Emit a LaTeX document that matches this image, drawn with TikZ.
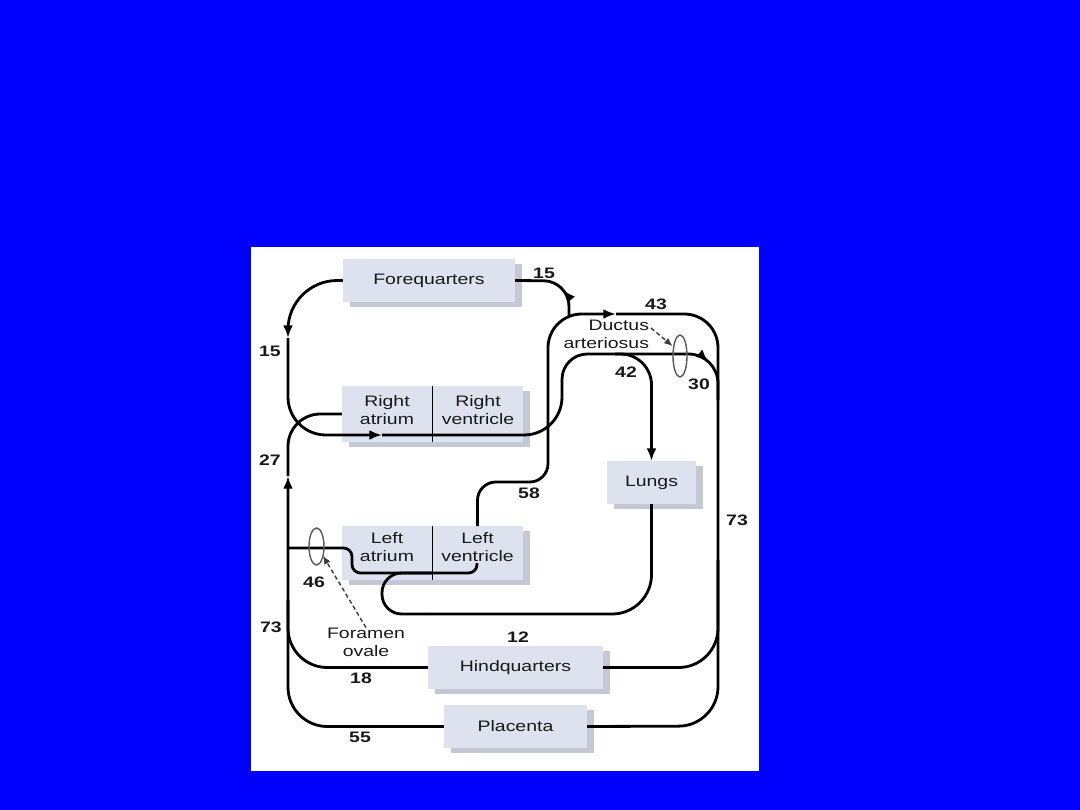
\documentclass[tikz,border=0pt]{standalone}
\usepackage{fontspec}
\setmainfont{Liberation Sans}[FakeStretch=1.28]
\usetikzlibrary{arrows.meta,shapes.geometric,shadows,decorations.markings,calc}
\definecolor{bgblue}{RGB}{0,0,255}
\definecolor{boxfill}{RGB}{222,226,238}
\definecolor{boxshadow}{RGB}{196,200,212}
\definecolor{ellgray}{RGB}{90,90,90}
\definecolor{dashgray}{RGB}{60,60,60}
\begin{document}
\begin{tikzpicture}[x=0.025cm,y=-0.025cm,
  every node/.style={inner sep=0pt, outer sep=0pt},
  txt/.style={font=\fontsize{10.8}{13}\selectfont, align=center, text=black!90},
  num/.style={font=\bfseries\fontsize{10.8}{13}\selectfont, text=black!90},
  box/.style={txt, fill=boxfill, drop shadow={shadow xshift=5pt, shadow yshift=-3.6pt, fill=boxshadow, opacity=1}},
  flow/.style={line width=2pt, line join=round},
  >={Latex[length=9pt,width=7pt]},
  marr/.style={postaction={decorate,decoration={markings,mark=at position #1 with {\arrow{>}}}}},
  divider/.style={line width=1.3pt},
  oval/.style={ellipse, draw=ellgray, line width=1pt},
  dasharr/.style={dashgray, line width=1pt, dash pattern=on 3pt off 2pt, -{Latex[length=6pt,width=5pt]}},
]
\useasboundingbox (0,0) rectangle (1080,810);
\fill[bgblue] (0,0) rectangle (1080,810);
\fill[white] (251,247) rectangle (759,771);

% boxes
\node[box, minimum width=4.3cm, minimum height=1.075cm] (fq) at (429,280.5) {Forequarters};
\node[box, minimum width=4.525cm, minimum height=1.4cm] (rheart) at (432.5,414) {};
\node[box, minimum width=4.525cm, minimum height=1.35cm] (lheart) at (432.5,553) {};
\node[box, minimum width=2.225cm, minimum height=1.075cm] (lungs) at (651.5,482.5) {Lungs};
\node[box, minimum width=4.375cm, minimum height=1.075cm] (hq) at (515.5,667.5) {Hindquarters};
\node[box, minimum width=3.575cm, minimum height=1.075cm] (pl) at (515.5,726.5) {Placenta};

\node[txt] (ra) at (387,410) {Right\\atrium};
\node[txt] (rv) at (478,410) {Right\\ventricle};
\node[txt] (la) at (387,547) {Left\\atrium};
\node[txt] (lv) at (477.5,547) {Left\\ventricle};
\draw[divider] (rheart.north) -- (rheart.south);
\draw[divider] (lheart.north) -- (lheart.south);

% coordinates
\coordinate (svcarr) at (288,338);
\coordinate (raarr) at (382,435);
\coordinate (ptv) at (562,395);
\coordinate (j42) at (615,354);
\coordinate (duct) at (718,400);
\coordinate (aov) at (548,440);
\coordinate (aoarr) at (616,314);
\coordinate (rdesc) at (718,560);
\coordinate (j15) at (569,317);
\coordinate (ivcm) at (288,600);
\coordinate (ivcarr) at (288,476);
\coordinate (fo0) at (288,548);
\coordinate (lvin) at (477,563);
\coordinate (lr) at (430,614);
\coordinate (lrj) at (432,573);

% superior vena cava to right atrium and on through right ventricle
\draw[flow,->,rounded corners=35pt] (fq.west) -| (svcarr);
\draw[flow,->,rounded corners=27pt] (svcarr) |- (raarr);
\draw[flow,rounded corners=27pt] (raarr) -- (562,435) -- (ptv);
\draw[flow,rounded corners=18pt] (ptv) -- (562,354) -- (j42);
\draw[flow,rounded corners=21pt,marr=0.7] (j42) -- (718,354) -- (duct);
\draw[flow,->,rounded corners=22pt] (j42) -| (lungs.north);

% left ventricle to aorta
\draw[flow,rounded corners=13pt] (lv.north |- lheart.north) -- (477.5,482) -- (548,482) -- (aov);
\draw[flow,->,rounded corners=24pt] (aov) -- (548,314) -- (aoarr);
\draw[flow,rounded corners=24pt] (aoarr) -- (718,314) -- (rdesc);
\draw[flow,rounded corners=28pt] (rdesc) -- (718,726) -- (pl.east);
\draw[flow,rounded corners=28pt] (rdesc) |- (hq.east);
\draw[flow,rounded corners=18pt,marr=0.36] (j15) -- (569,281) -- (fq.east);

% return to the heart
\draw[flow,rounded corners=28pt] (hq.west) -| (ivcm);
\draw[flow,->,rounded corners=28pt] (pl.west) -| (ivcarr);
\draw[flow,rounded corners=23pt] (ivcarr) |- (rheart.west);
\draw[flow,rounded corners=6pt] (fo0) -- (352,548) -- (352,573) -- (477,573) -- (lvin);
\draw[flow,rounded corners=28pt] (lungs.south) |- (lr);
\draw[flow,rounded corners=14pt] (lr) -- (382,614) -- (382,573) -- (lrj);

% shunts
\node[oval, minimum width=0.375cm, minimum height=0.925cm] (foell) at (316.5,546.5) {};
\node[oval, minimum width=0.35cm, minimum height=1.05cm] (da) at (680,356) {};
\node[txt, align=right, anchor=east] (dalbl) at (649,334) {Ductus\\arteriosus};
\node[txt] (folbl) at (366,642) {Foramen\\ovale};
\draw[dasharr, shorten >=1pt] ($(dalbl.east)+(2,-6)$) -- (da.125);
\draw[dasharr] (folbl.north) -- (foell.-55);

% numbers
\node[num] (n15a) at (544,273) {15};
\node[num] (n15b) at (270,351) {15};
\node[num] (n43) at (656,304) {43};
\node[num] (n42) at (626,372) {42};
\node[num] (n30) at (699,384) {30};
\node[num] (n27) at (270,460) {27};
\node[num] (n58) at (529,493) {58};
\node[num] (n73r) at (737,520) {73};
\node[num] (n46) at (314,582) {46};
\node[num] (n73l) at (271,627) {73};
\node[num] (n12) at (518,637) {12};
\node[num] (n18) at (361,678) {18};
\node[num] (n55) at (360,737) {55};
\end{tikzpicture}
\end{document}
